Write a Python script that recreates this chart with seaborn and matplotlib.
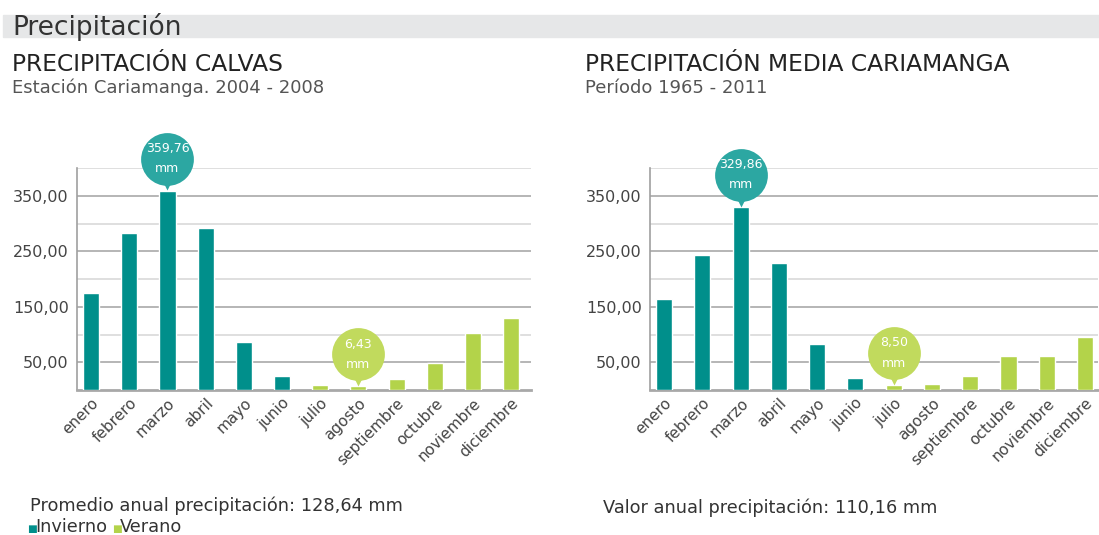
import matplotlib
matplotlib.use("Agg")
import matplotlib.pyplot as plt
import seaborn as sns
import pandas as pd
from matplotlib.transforms import offset_copy
from matplotlib.patches import Rectangle

# ---------------- data ----------------
months = ["enero", "febrero", "marzo", "abril", "mayo", "junio", "julio",
          "agosto", "septiembre", "octubre", "noviembre", "diciembre"]
season = ["Invierno"] * 6 + ["Verano"] * 6
calvas = [175, 283, 359.76, 292, 87, 25, 9, 6.43, 19, 48, 102, 130]
cariamanga = [164, 243, 329.86, 230, 83, 22, 8.50, 11, 26, 61, 62, 96]
calvas_callouts = [("marzo", "359,76"), ("agosto", "6,43")]
cariamanga_callouts = [("marzo", "329,86"), ("julio", "8,50")]
ytick_major = [50, 150, 250, 350]
ytick_minor = [100, 200, 300, 400]
ytick_labels = ["50,00", "150,00", "250,00", "350,00"]

W, H = 1099, 535
TEAL = "#008f8b"
GREEN = "#b3d34a"
TEAL_B = "#2ca7a2"
GREEN_B = "#c1da5d"
palette = {"Invierno": TEAL, "Verano": GREEN}
bubble_col = {"Invierno": TEAL_B, "Verano": GREEN_B}

sns.set_theme(style="white")
plt.rcParams["font.family"] = ["DejaVu Sans"]

fig = plt.figure(figsize=(W / 100, H / 100), dpi=100)
fig.patch.set_facecolor("white")


def px(x, y):
    return x / W, 1 - y / H


def draw(ax, values, callouts, xlim):
    df = pd.DataFrame({"mes": months, "valor": values, "estacion": season})
    sns.barplot(data=df, x="mes", y="valor", hue="estacion", order=months,
                palette=palette, dodge=False, width=0.42, legend=False,
                saturation=1, ax=ax, zorder=3)
    ax.set_xlim(*xlim)
    ax.set_ylim(0, 400)
    ax.set_yticks(ytick_major)
    ax.set_yticklabels(ytick_labels)
    ax.set_yticks(ytick_minor, minor=True)
    ax.grid(True, which="major", axis="y", color="#b0b0b0", lw=1.3, zorder=0)
    ax.grid(True, which="minor", axis="y", color="#dcdcdc", lw=1.3, zorder=0)
    ax.grid(False, axis="x")
    ax.set_xlabel("")
    ax.set_ylabel("")
    for s in ["top", "right"]:
        ax.spines[s].set_visible(False)
    ax.spines["left"].set_color("#a0a0a0")
    ax.spines["left"].set_linewidth(1.2)
    ax.spines["bottom"].set_color("#a8a8a8")
    ax.spines["bottom"].set_linewidth(2)
    ax.tick_params(axis="y", which="both", length=0, labelsize=11.5,
                   labelcolor="#444444", pad=6)
    ax.tick_params(axis="x", length=0, labelsize=11, labelcolor="#444444", pad=4)
    ax.set_xticks(range(len(months)))
    ax.set_xticklabels(months, rotation=45, ha="right", va="top",
                       rotation_mode="anchor")
    # callout bubbles
    for mes, txt in callouts:
        i = months.index(mes)
        v = values[i]
        col = bubble_col[season[i]]
        t_circ = offset_copy(ax.transData, fig=fig, x=0, y=23, units="points")
        t_tri = offset_copy(ax.transData, fig=fig, x=0, y=6, units="points")
        ax.plot([i], [v], marker="v", ms=12, color=col, mec="none",
                transform=t_tri, clip_on=False, zorder=5)
        ax.plot([i], [v], marker="o", ms=38, color=col, mec="none",
                transform=t_circ, clip_on=False, zorder=5)
        t1 = offset_copy(ax.transData, fig=fig, x=0, y=30.5, units="points")
        t2 = offset_copy(ax.transData, fig=fig, x=0, y=16, units="points")
        ax.text(i, v, txt, transform=t1, ha="center", va="center",
                color="white", fontsize=9, zorder=6)
        ax.text(i, v, "mm", transform=t2, ha="center", va="center",
                color="white", fontsize=9, zorder=6)


# header band
fig.patches.append(Rectangle(px(3, 37), (W - 3) / W, 22 / H,
                             transform=fig.transFigure, color="#e6e7e8",
                             zorder=0))
fig.text(*px(12, 35), "Precipitación", fontsize=19, color="#333333",
         va="baseline", ha="left")

# left chart
ax1 = fig.add_axes([77 / W, 1 - 390 / H, (531 - 77) / W, (390 - 168.3) / H])
draw(ax1, calvas, calvas_callouts, (-0.37, 11.52))
fig.text(*px(12, 71), "PRECIPITACIÓN CALVAS", fontsize=16.8, color="#222222",
         va="baseline", ha="left")
fig.text(*px(12, 93), "Estación Cariamanga. 2004 - 2008", fontsize=13,
         color="#555555", va="baseline", ha="left")
fig.text(*px(30, 511), "Promedio anual precipitación: 128,64 mm", fontsize=12.8,
         color="#333333", va="baseline", ha="left")
fig.text(*px(27, 532), "■", fontsize=7.5, color=TEAL, va="baseline", ha="left")
fig.text(*px(35, 532), "Invierno", fontsize=12.8, color="#333333",
         va="baseline", ha="left")
fig.text(*px(112, 532), "■", fontsize=7.5, color=GREEN, va="baseline", ha="left")
fig.text(*px(120, 532), "Verano", fontsize=12.8, color="#333333",
         va="baseline", ha="left")

# right chart
ax2 = fig.add_axes([650 / W, 1 - 390 / H, (1098 - 650) / W, (390 - 168.3) / H])
draw(ax2, cariamanga, cariamanga_callouts, (-0.37, 11.34))
fig.text(*px(585, 71), "PRECIPITACIÓN MEDIA CARIAMANGA", fontsize=16.8,
         color="#222222", va="baseline", ha="left")
fig.text(*px(585, 93), "Período 1965 - 2011", fontsize=13, color="#555555",
         va="baseline", ha="left")
fig.text(*px(603, 513), "Valor anual precipitación: 110,16 mm", fontsize=12.8,
         color="#333333", va="baseline", ha="left")

fig.savefig("out.png", dpi=100, facecolor="white")
